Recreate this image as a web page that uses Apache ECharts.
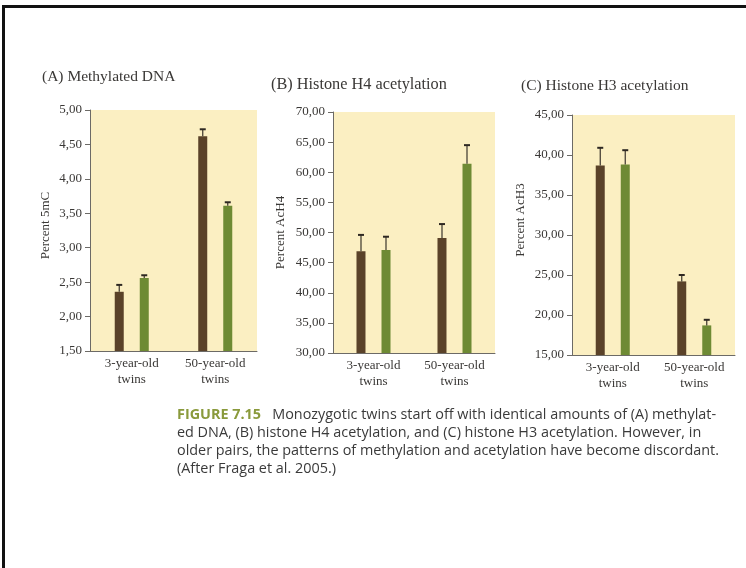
<!DOCTYPE html>
<html>
<head>
<meta charset="utf-8">
<script src="https://cdn.jsdelivr.net/npm/echarts@6/dist/echarts.min.js"></script>
<style>
  html, body { margin: 0; padding: 0; background: #ffffff; }
  #chart { width: 746px; height: 568px; position: absolute; left: 0; top: 0; }
  #frame { position: absolute; left: 2px; top: 5px; right: 0; bottom: 0; border-top: 3px solid #111; border-left: 3px solid #111; pointer-events: none; }
</style>
</head>
<body>
<div id="chart"></div>
<div id="frame"></div>
<script>
// ---- data ----
const categories = ['3-year-old\ntwins', '50-year-old\ntwins'];

const methylTwin1 = [2.36, 4.62];
const methylTwin1Err = [0.10, 0.10];
const methylTwin2 = [2.56, 3.61];
const methylTwin2Err = [0.04, 0.05];

const h4Twin1 = [46.9, 49.1];
const h4Twin1Err = [2.7, 2.3];
const h4Twin2 = [47.1, 61.4];
const h4Twin2Err = [2.2, 3.1];

const h3Twin1 = [38.7, 24.2];
const h3Twin1Err = [2.2, 0.8];
const h3Twin2 = [38.8, 18.7];
const h3Twin2Err = [1.8, 0.7];

const panelTitles = ['(A) Methylated DNA', '(B) Histone H4 acetylation', '(C) Histone H3 acetylation'];
const yNames = ['Percent 5mC', 'Percent AcH4', 'Percent AcH3'];
const yRanges = [[1.5, 5, 0.5], [30, 70, 5], [15, 45, 5]];

const captionLabel = 'FIGURE 7.15';
const captionLines = [
  'Monozygotic twins start off with identical amounts of (A) methylat-',
  'ed DNA, (B) histone H4 acetylation, and (C) histone H3 acetylation. However, in',
  'older pairs, the patterns of methylation and acetylation have become discordant.',
  '(After Fraga et al. 2005.)'
];

// ---- styling ----
const BROWN = '#5a4229';
const GREEN = '#6e8a34';
const CREAM = '#fbefc2';
const AXIS = '#6c6a66';
const TXT = '#3a3836';
const SERIF = '"Liberation Serif", "DejaVu Serif", serif';
const SANS = '"Open Sans", Lato, sans-serif';
const BAR_W = 9;
const HALF = 12.5;

const grids = [
  { left: 90, top: 110, width: 167, height: 241 },
  { left: 333, top: 112, width: 162, height: 241 },
  { left: 572, top: 115, width: 163, height: 240 }
];
const titlePos = [[42, 69], [271, 77], [521, 78]];
const titleSizes = [15.5, 16.3, 15.5];
const nameGaps = [38, 46, 45];
const namePads = [[0, 0, 0, 10], [0, 0, 0, 0], [0, 0, 0, 30]];

const sets = [
  [methylTwin1, methylTwin1Err, methylTwin2, methylTwin2Err],
  [h4Twin1, h4Twin1Err, h4Twin2, h4Twin2Err],
  [h3Twin1, h3Twin1Err, h3Twin2, h3Twin2Err]
];

function errRender(offset) {
  return function (params, api) {
    const i = api.value(0), v = api.value(1), e = api.value(2);
    const p0 = api.coord([i, v]);
    const p1 = api.coord([i, v + e]);
    const cx = p0[0] + offset;
    return {
      type: 'group',
      children: [
        { type: 'line', shape: { x1: cx, y1: p0[1], x2: cx, y2: p1[1] }, style: { stroke: '#3b342c', lineWidth: 1.2 } },
        { type: 'line', shape: { x1: cx - 3, y1: p1[1], x2: cx + 3, y2: p1[1] }, style: { stroke: '#2e2822', lineWidth: 2 } }
      ]
    };
  };
}

const fmt = v => v.toFixed(2).replace('.', ',');

const titles = panelTitles.map((t, k) => ({
  text: t, left: titlePos[k][0], top: titlePos[k][1], padding: 0,
  textStyle: { fontFamily: SERIF, fontSize: titleSizes[k], fontWeight: 'normal', color: TXT }
}));
titles.push({
  text: '{fig|' + captionLabel + '}   ' + captionLines.map(l => '{t|' + l + '}').join('\n'),
  left: 177, top: 406, padding: 0,
  textStyle: {
    fontFamily: SANS, fontSize: 14.4, fontWeight: 'normal', lineHeight: 18, color: '#3a3a3a',
    rich: {
      fig: { fontFamily: SANS, fontSize: 14.4, fontWeight: 'bold', color: '#8a9a3c', lineHeight: 18 },
      t: { fontFamily: SANS, fontSize: 14.4, fontWeight: 'normal', color: '#3a3a3a', lineHeight: 18 }
    }
  }
});

const option = {
  backgroundColor: '#ffffff',
  animation: false,
  title: titles,
  grid: grids.map(g => Object.assign({ show: true, backgroundColor: CREAM, borderWidth: 0 }, g)),
  xAxis: grids.map((g, k) => ({
    type: 'category', gridIndex: k, data: categories,
    axisLine: { lineStyle: { color: AXIS, width: 1 } },
    axisTick: { show: false },
    axisLabel: { fontFamily: SERIF, fontSize: 13, color: TXT, lineHeight: 16, margin: 5, interval: 0 }
  })),
  yAxis: grids.map((g, k) => ({
    type: 'value', gridIndex: k,
    min: yRanges[k][0], max: yRanges[k][1], interval: yRanges[k][2],
    name: yNames[k], nameLocation: 'middle', nameGap: nameGaps[k],
    nameTextStyle: { fontFamily: SERIF, fontSize: 13, color: TXT, padding: namePads[k] },
    axisLine: { show: true, lineStyle: { color: AXIS, width: 1 } },
    axisTick: { show: true, length: 5, lineStyle: { color: AXIS } },
    splitLine: { show: false },
    axisLabel: { fontFamily: SERIF, fontSize: 13, color: TXT, margin: 8, formatter: fmt }
  })),
  series: []
};

sets.forEach((s, k) => {
  option.series.push({
    type: 'bar', xAxisIndex: k, yAxisIndex: k, data: s[0], barWidth: BAR_W, barGap: '178%',
    itemStyle: { color: BROWN }, z: 2
  });
  option.series.push({
    type: 'bar', xAxisIndex: k, yAxisIndex: k, data: s[2], barWidth: BAR_W, barGap: '178%',
    itemStyle: { color: GREEN }, z: 2
  });
  option.series.push({
    type: 'custom', xAxisIndex: k, yAxisIndex: k, renderItem: errRender(-HALF), z: 3,
    encode: { x: 0, y: 1 },
    data: categories.map((c, i) => [i, s[0][i], s[1][i]])
  });
  option.series.push({
    type: 'custom', xAxisIndex: k, yAxisIndex: k, renderItem: errRender(HALF), z: 3,
    encode: { x: 0, y: 1 },
    data: categories.map((c, i) => [i, s[2][i], s[3][i]])
  });
});

const chart = echarts.init(document.getElementById('chart'), null, { renderer: 'canvas' });
chart.setOption(option);
</script>
</body>
</html>
